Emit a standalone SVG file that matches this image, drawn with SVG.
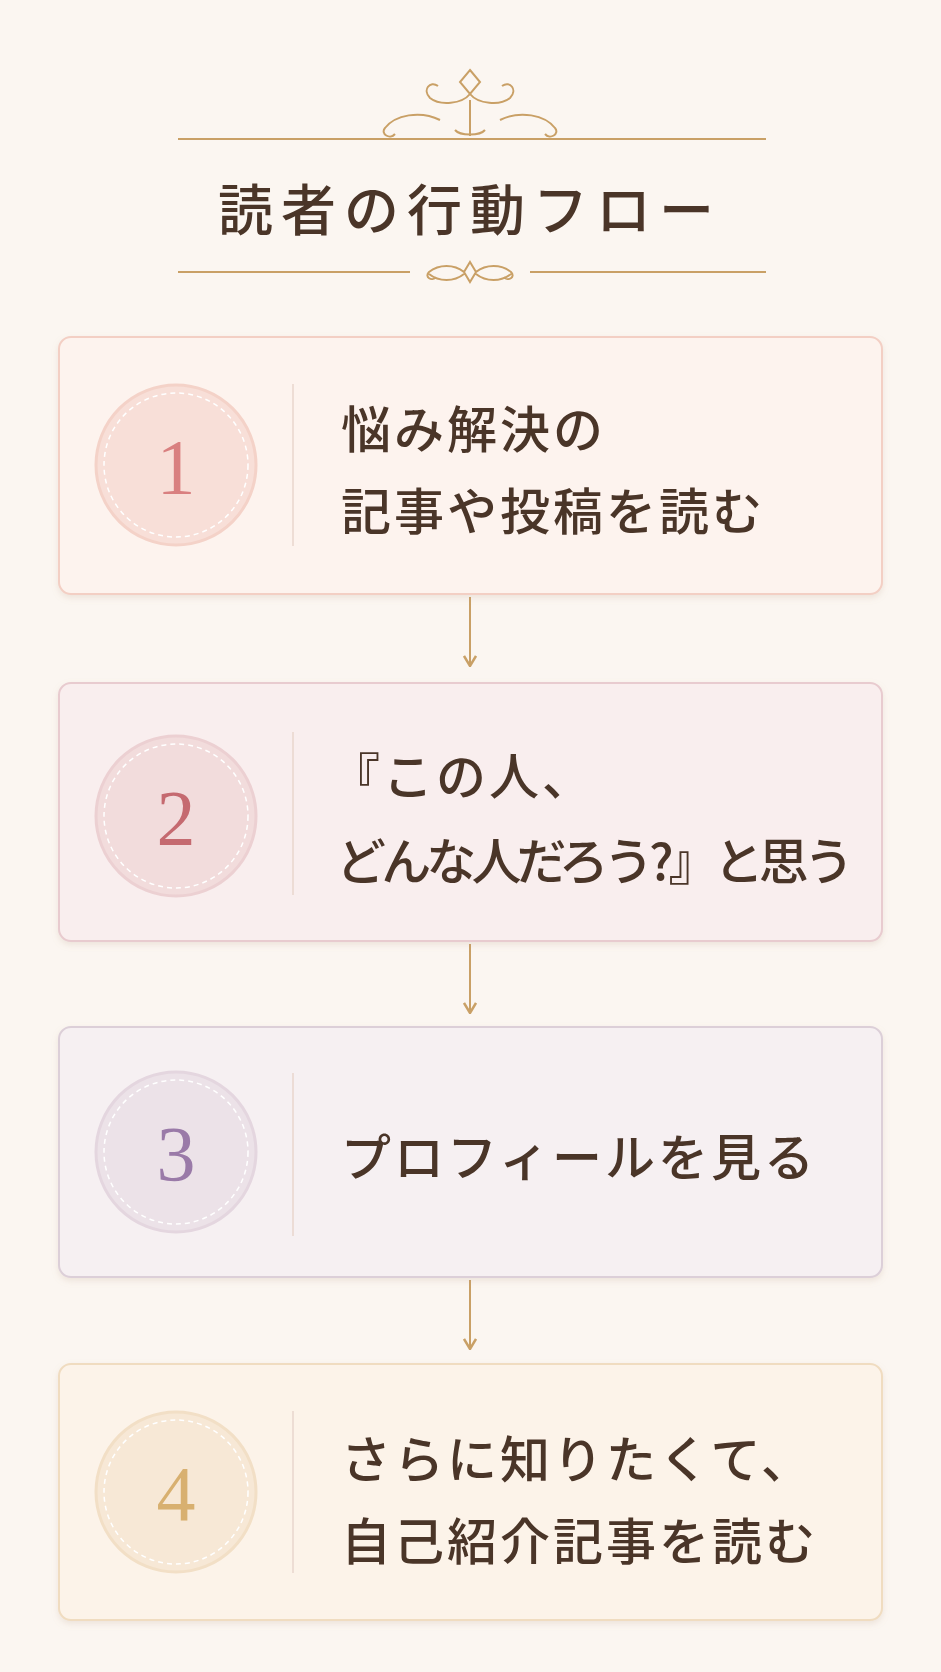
<svg xmlns="http://www.w3.org/2000/svg" width="941" height="1672" viewBox="0 0 941 1672">
<defs>
<style>
.t{font-family:"Noto Sans CJK JP","Noto Sans",sans-serif;font-size:50px;fill:#4a3528;font-weight:500;letter-spacing:3px}
.n{font-family:"Liberation Serif",serif;font-size:78px;text-anchor:middle}
.dv{stroke:#e9d6cc;stroke-width:1.5}
.dash{fill:none;stroke:#ffffff;stroke-width:1.5;stroke-dasharray:5 4}
.g{stroke:#c9a066;stroke-width:2;fill:none}
</style>
<marker id="ah" viewBox="0 0 12 14" refX="11" refY="7" markerWidth="12" markerHeight="14" orient="auto" markerUnits="userSpaceOnUse">
<path d="M1,1 L11,7 L1,13" fill="none" stroke="#c9a066" stroke-width="2.5"/>
</marker>
<filter id="sh" x="-5%" y="-5%" width="110%" height="115%"><feDropShadow dx="0" dy="3" stdDeviation="3" flood-color="#b89a80" flood-opacity="0.2"/></filter>
</defs>
<rect width="941" height="1672" fill="#fbf6f1"/>
<g id="header">
<line x1="178" y1="139" x2="766" y2="139" class="g" stroke-width="1.5"/>
<path d="M470,70 l10,12 -10,12 -10,-12z M470,94 c-8,10 -30,12 -40,4 c-8,-8 0,-18 8,-12 M470,94 c8,10 30,12 40,4 c8,-8 0,-18 -8,-12 M470,100 v36 M440,120 c-20,-10 -45,-5 -55,8 c-5,6 5,12 10,6 M500,120 c20,-10 45,-5 55,8 c5,6 -5,12 -10,6 M455,130 c5,6 25,6 30,0" class="g"/>
<text x="470" y="230" text-anchor="middle" style="font-family:'Noto Sans CJK JP',sans-serif;font-size:55px;fill:#4a3528;font-weight:500;letter-spacing:8px">読者の行動フロー</text>
<line x1="178" y1="272" x2="410" y2="272" class="g" stroke-width="1.5"/>
<line x1="530" y1="272" x2="766" y2="272" class="g" stroke-width="1.5"/>
<path d="M470,262 l6,10 -6,10 -6,-10z M464,272 c-10,-8 -25,-8 -35,0 c-5,5 3,10 7,5 M476,272 c10,-8 25,-8 35,0 c5,5 -3,10 -7,5 M464,274 c-10,8 -25,8 -35,0 M476,274 c10,8 25,8 35,0" class="g" stroke-width="1.5"/>
</g>
<g id="connectors">
<line x1="470" y1="597" x2="470" y2="666" class="g" stroke-width="2.5" marker-end="url(#ah)"/>
<line x1="470" y1="944" x2="470" y2="1013" class="g" stroke-width="2.5" marker-end="url(#ah)"/>
<line x1="470" y1="1280" x2="470" y2="1349" class="g" stroke-width="2.5" marker-end="url(#ah)"/>
</g>
<g id="step1">
<rect x="59" y="337" width="823" height="257" rx="12" fill="#fdf3ee" stroke="#f3cfc4" stroke-width="2" filter="url(#sh)"/>
<circle cx="176" cy="465" r="80" fill="#f8dfd8" stroke="#f4d2c8" stroke-width="3"/>
<circle cx="176" cy="465" r="72" class="dash"/>
<text x="176" y="493" class="n" fill="#d98080">1</text>
<line x1="293" y1="384" x2="293" y2="546" class="dv"/>
<text x="341" y="448" class="t">悩み解決の</text>
<text x="341" y="530" class="t">記事や投稿を読む</text>
</g>
<g id="step2">
<rect x="59" y="683" width="823" height="258" rx="12" fill="#f9eeee" stroke="#e8cbcf" stroke-width="2" filter="url(#sh)"/>
<circle cx="176" cy="816" r="80" fill="#f2dcdc" stroke="#ecd0d2" stroke-width="3"/>
<circle cx="176" cy="816" r="72" class="dash"/>
<text x="176" y="844" class="n" fill="#c56a70">2</text>
<line x1="293" y1="732" x2="293" y2="895" class="dv"/>
<text x="330" y="795" class="t">『この人、</text>
<text x="336" y="880" class="t" style="letter-spacing:0" textLength="518">どんな人だろう?』と思う</text>
</g>
<g id="step3">
<rect x="59" y="1027" width="823" height="250" rx="12" fill="#f6f0f2" stroke="#dccfd8" stroke-width="2" filter="url(#sh)"/>
<circle cx="176" cy="1152" r="80" fill="#ece2e8" stroke="#e4d6df" stroke-width="3"/>
<circle cx="176" cy="1152" r="72" class="dash"/>
<text x="176" y="1180" class="n" fill="#9a7aa8">3</text>
<line x1="293" y1="1073" x2="293" y2="1236" class="dv"/>
<text x="341" y="1176" class="t">プロフィールを見る</text>
</g>
<g id="step4">
<rect x="59" y="1364" width="823" height="256" rx="12" fill="#fcf3e9" stroke="#f0dcc0" stroke-width="2" filter="url(#sh)"/>
<circle cx="176" cy="1492" r="80" fill="#f7e8d6" stroke="#f2dfc6" stroke-width="3"/>
<circle cx="176" cy="1492" r="72" class="dash"/>
<text x="176" y="1520" class="n" fill="#d8b070">4</text>
<line x1="293" y1="1411" x2="293" y2="1573" class="dv"/>
<text x="341" y="1478" class="t">さらに知りたくて、</text>
<text x="341" y="1560" class="t">自己紹介記事を読む</text>
</g>
</svg>
